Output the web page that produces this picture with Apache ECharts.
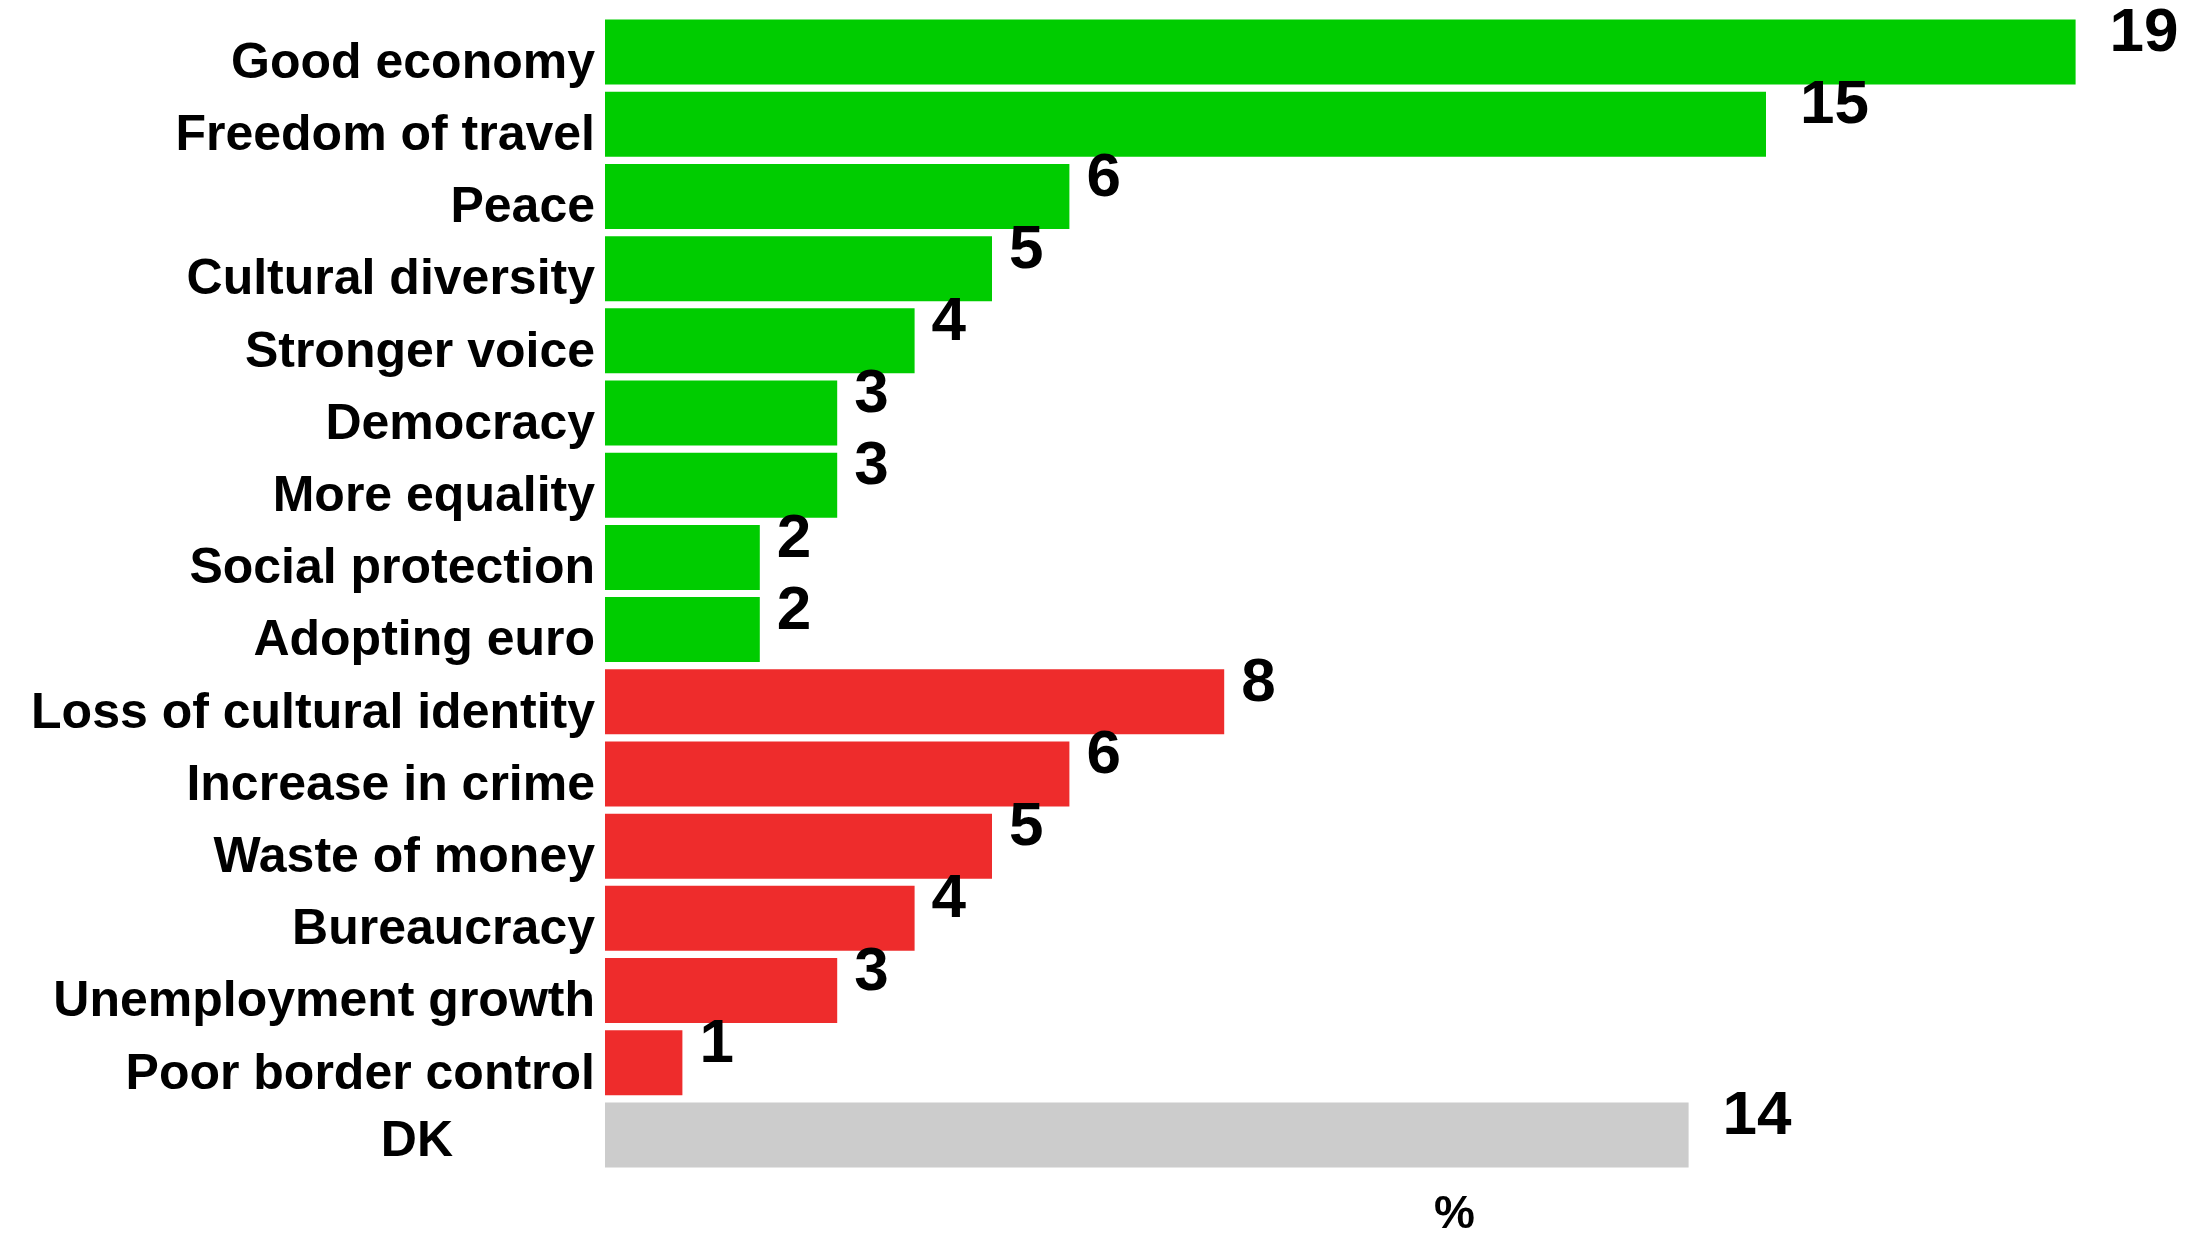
<!DOCTYPE html>
<html>
<head>
<meta charset="utf-8">
<script src="https://cdn.jsdelivr.net/npm/echarts@6/dist/echarts.min.js"></script>
<style>
html,body{margin:0;padding:0;background:#fff;}
#chart{width:2201px;height:1236px;}
</style>
</head>
<body>
<div id="chart"></div>
<script>
const categories = [
  'Good economy', 'Freedom of travel', 'Peace', 'Cultural diversity', 'Stronger voice',
  'Democracy', 'More equality', 'Social protection', 'Adopting euro',
  'Loss of cultural identity', 'Increase in crime', 'Waste of money', 'Bureaucracy',
  'Unemployment growth', 'Poor border control', 'DK'
];
const values = [19, 15, 6, 5, 4, 3, 3, 2, 2, 8, 6, 5, 4, 3, 1, 14];
const groups = ['pos','pos','pos','pos','pos','pos','pos','pos','pos',
                'neg','neg','neg','neg','neg','neg','dk'];
const axisName = '%';

const groupColor = { pos: '#00CC00', neg: '#EE2C2C', dk: '#CCCCCC' };
const FONT = '"Liberation Sans", Arial, sans-serif';
const labelBase = { color: '#000', fontFamily: FONT, fontWeight: 'bold', fontSize: 50 };

const chart = echarts.init(document.getElementById('chart'));
chart.setOption({
  animation: false,
  backgroundColor: '#ffffff',
  grid: { left: 605, right: 48, top: 16, height: 1155, containLabel: false },
  xAxis: {
    type: 'value', min: 0, max: 20,
    show: false
  },
  yAxis: {
    type: 'category', data: categories, inverse: true,
    axisLine: { show: false }, axisTick: { show: false }, splitLine: { show: false },
    axisLabel: {
      margin: 10,
      color: '#000', fontFamily: FONT, fontWeight: 'bold', fontSize: 50,
      formatter: function (v) { return v === 'DK' ? '{dk|' + v + '}' : '{a|' + v + '}'; },
      rich: {
        a: Object.assign({ padding: [24, 0, 0, 0] }, labelBase),
        dk: Object.assign({ padding: [14, 142, 0, 0] }, labelBase)
      }
    }
  },
  series: [{
    type: 'bar',
    barWidth: 65,
    data: values.map(function (v, i) {
      return {
        value: v,
        itemStyle: { color: groupColor[groups[i]] },
        label: { distance: v >= 10 ? 34 : 17 }
      };
    }),
    label: {
      show: true, position: 'right', offset: [0, -18],
      color: '#000', fontFamily: FONT, fontWeight: 'bold', fontSize: 62
    }
  }],
  graphic: [{
    type: 'text', left: 1454 - 20, top: 1192,
    style: { text: axisName, fill: '#000', font: 'bold 46px ' + FONT }
  }]
});
</script>
</body>
</html>
